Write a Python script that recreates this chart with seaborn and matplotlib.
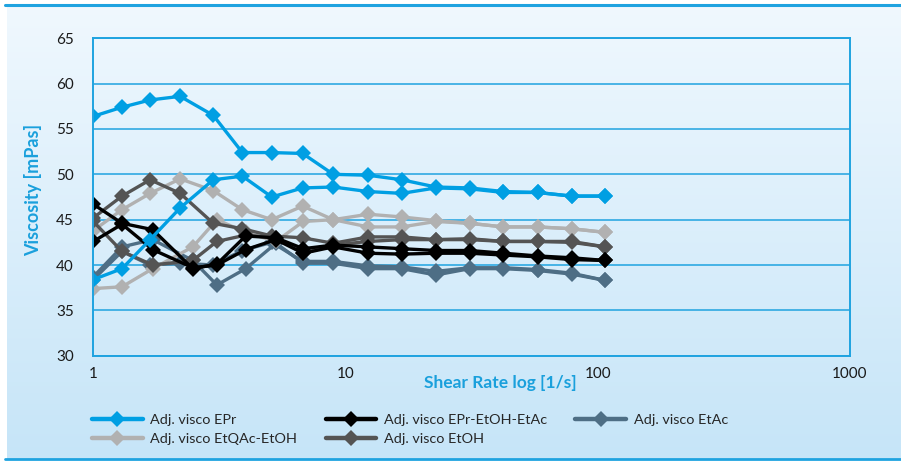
import numpy as np
import pandas as pd
import matplotlib
matplotlib.use("Agg")
import matplotlib.pyplot as plt
from matplotlib.lines import Line2D
import seaborn as sns

sns.set_theme(style="white")
plt.rcParams["font.family"] = ["Lato", "DejaVu Sans"]

# ------------------------------------------------------------------
# data, two sweeps per sample
# ------------------------------------------------------------------
X_FWD = [1, 1.30, 1.68, 2.21, 2.99, 3.90, 5.10, 6.76, 8.94,
         12.3, 16.7, 22.8, 31.1, 42.2, 57.7, 78.7, 107]
X_BACK = [1, 1.30, 1.72, 2.48, 3.09, 4.02, 5.30, 6.80, 8.94,
          12.3, 16.7, 22.8, 31.1, 42.2, 57.7, 78.7, 107]

EPR_A = [38.4, 39.6, 42.8, 46.3, 49.4, 49.8, 47.5, 48.5, 48.6,
         48.1, 47.9, 48.5, 48.4, 48.0, 48.0, 47.6, 47.6]
EPR_B = [56.4, 57.4, 58.2, 58.6, 56.5, 52.4, 52.4, 52.3, 50.0,
         49.9, 49.4, 48.6, 48.5, 48.1, 48.0, 47.6, 47.6]

MIX_A = [46.7, 44.6, 43.9, 39.6, 40.1, 43.2, 43.0, 41.8, 42.2,
         42.0, 41.8, 41.6, 41.6, 41.3, 41.0, 40.8, 40.5]
MIX_B = [42.6, 44.5, 41.7, 39.7, 40.0, 41.7, 42.8, 41.3, 42.0,
         41.3, 41.2, 41.3, 41.3, 41.1, 40.9, 40.6, 40.5]

ETAC_A = [38.7, 42.0, 42.8, 40.5, 37.8, 39.6, 42.4, 40.2, 40.2,
          39.6, 39.6, 38.9, 39.6, 39.6, 39.4, 39.0, 38.3]
ETAC_B = [38.4, 41.5, 40.0, 40.2, 40.0, 41.6, 42.5, 40.4, 40.4,
          39.9, 39.8, 39.3, 39.7, 39.7, 39.5, 39.1, 38.3]

QAC_A = [37.4, 37.6, 39.6, 42.0, 45.0, 43.6, 42.6, 44.8, 45.0,
         44.2, 44.2, 44.8, 44.6, 44.2, 44.2, 44.0, 43.6]
QAC_B = [43.8, 46.1, 47.9, 49.5, 48.2, 46.1, 45.0, 46.5, 45.0,
         45.6, 45.3, 44.9, 44.6, 44.2, 44.2, 44.0, 43.6]

ETOH_A = [44.8, 41.5, 40.0, 40.5, 42.6, 43.3, 43.0, 41.3, 42.2,
          42.6, 42.8, 42.8, 42.8, 42.6, 42.6, 42.5, 42.0]
ETOH_B = [45.2, 47.6, 49.4, 47.9, 44.6, 44.0, 43.2, 43.0, 42.4,
          43.1, 43.1, 42.8, 42.9, 42.6, 42.6, 42.6, 42.0]

NAMES = ["Adj. visco EPr", "Adj. visco EPr-EtOH-EtAc", "Adj. visco EtAc",
         "Adj. visco EtQAc-EtOH", "Adj. visco EtOH"]
COLORS = ["#009fe3", "#000000", "#4e6e85", "#b1b1b1", "#545454"]

sweeps = [
    (NAMES[0], X_FWD, EPR_A), (NAMES[0], X_FWD, EPR_B),
    (NAMES[1], X_BACK, MIX_A), (NAMES[1], X_BACK, MIX_B),
    (NAMES[2], X_BACK, ETAC_A), (NAMES[2], X_FWD, ETAC_B),
    (NAMES[3], X_BACK, QAC_A), (NAMES[3], X_FWD, QAC_B),
    (NAMES[4], X_BACK, ETOH_A), (NAMES[4], X_FWD, ETOH_B),
]
rows = []
for i, (name, xs, ys) in enumerate(sweeps):
    for x, y in zip(xs, ys):
        rows.append({"rate": x, "visc": y, "sample": name, "sweep": i})
df = pd.DataFrame(rows)

BLUE = "#1fa3e0"

# ------------------------------------------------------------------
# figure
# ------------------------------------------------------------------
fig = plt.figure(figsize=(9.01, 4.61), dpi=100, facecolor="white")

# gradient panel behind everything
bg = fig.add_axes([7 / 901, 2 / 461, 894 / 901, 455 / 461], zorder=-10)
grad = np.linspace(0, 1, 256).reshape(-1, 1)
top_c = np.array([240, 248, 254]) / 255
bot_c = np.array([198, 229, 248]) / 255
img = top_c + (bot_c - top_c) * grad[..., None]
bg.imshow(img, aspect="auto", extent=[0, 1, 0, 1])
bg.axis("off")
fig.add_artist(Line2D([5 / 901, 1], [1 - 5.5 / 461] * 2, color=BLUE, lw=2.2))
fig.add_artist(Line2D([5 / 901, 1], [1 - 459 / 461] * 2, color=BLUE, lw=2.0))

ax = fig.add_axes([93.3 / 901, 1 - 355.7 / 461, (850 - 93.3) / 901,
                   (355.7 - 38.3) / 461])
ax.set_facecolor("none")

draw_order = [NAMES[2], NAMES[3], NAMES[4], NAMES[1], NAMES[0]]
palette = dict(zip(NAMES, COLORS))
sns.lineplot(data=df, x="rate", y="visc", hue="sample", units="sweep",
             hue_order=draw_order, palette=palette, estimator=None,
             sort=False, marker="D", markersize=8.3, markeredgewidth=0,
             linewidth=2.4, legend=False, ax=ax)

ax.set_xscale("log")
ax.set_xlim(1, 1000)
ax.set_ylim(30, 65)
ax.set_yticks(range(30, 66, 5))
ax.set_xticks([1, 10, 100, 1000])
ax.set_xticklabels(["1", "10", "100", "1000"])
ax.xaxis.set_minor_locator(matplotlib.ticker.NullLocator())
ax.tick_params(axis="x", which="major", direction="inout", length=6,
               color=BLUE, width=1.2, labelsize=11, labelcolor="#1a1a1a", pad=5)
ax.tick_params(axis="y", length=0, labelsize=11, labelcolor="#1a1a1a", pad=14)
ax.grid(axis="y", color=BLUE, lw=1.1)
ax.grid(axis="x", visible=False)
ax.set_axisbelow(True)
for sp in ax.spines.values():
    sp.set_color(BLUE)
    sp.set_linewidth(1.4)
ax.set_xlabel("")
ax.set_ylabel("")

fig.text(33 / 901, 1 - 190 / 461, "Viscosity [mPas]", rotation=90,
         ha="center", va="center", color="#1aa0dc", fontsize=13,
         fontweight="bold")
fig.text(500 / 901, 1 - 383 / 461, "Shear Rate log [1/s]", ha="center",
         va="center", color="#1aa0dc", fontsize=12.5, fontweight="bold")

# legend: rows are EPr / EPr-EtOH-EtAc / EtAc, then EtQAc-EtOH / EtOH
leg_order = [NAMES[0], NAMES[3], NAMES[1], NAMES[4], NAMES[2]]
handles = [Line2D([], [], color=palette[n], lw=3.2, marker="D", markersize=8,
                  markeredgewidth=0) for n in leg_order]
fig.legend(handles, leg_order, ncol=3, loc="upper left",
           bbox_to_anchor=(92 / 901, 1 - 414 / 461), frameon=False,
           fontsize=10.4, handlelength=3.5, handletextpad=0.55,
           columnspacing=1.95, labelspacing=0.45, borderaxespad=0,
           borderpad=0)

plt.savefig("out.png", dpi=100, facecolor="white")
